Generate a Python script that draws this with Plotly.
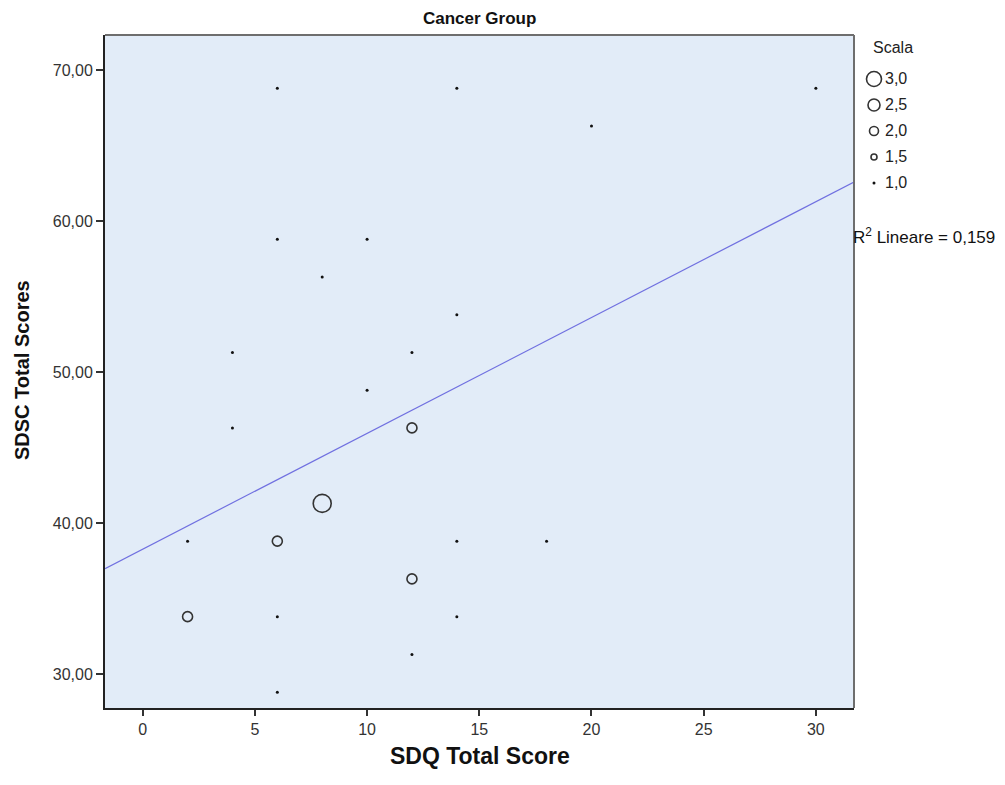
import numpy as np
import plotly.graph_objects as go

# ---------------- data ----------------
sdq = [6, 14, 30, 20, 6, 10, 8, 14, 4, 12, 10, 12, 4, 8, 2, 6, 14, 18, 12, 2, 6, 14, 12, 6]
sdsc = [68.8, 68.8, 68.8, 66.3, 58.8, 58.8, 56.3, 53.8, 51.3, 51.3, 48.8, 46.3, 46.3,
        41.3, 38.8, 38.8, 38.8, 38.8, 36.3, 33.8, 33.8, 33.8, 31.3, 28.8]
scale = [1, 1, 1, 1, 1, 1, 1, 1, 1, 1, 1, 2, 1, 3, 1, 2, 1, 1, 2, 2, 1, 1, 1, 1]

# linear fit as shown in the reference (R² Lineare = 0,159)
fit_slope = 0.767
fit_intercept = 38.27

legend_values = [3.0, 2.5, 2.0, 1.5, 1.0]
legend_labels = ["3,0", "2,5", "2,0", "1,5", "1,0"]
x_ticks = [0, 5, 10, 15, 20, 25, 30]
y_ticks = [30, 40, 50, 60, 70]
r2_label = "R<sup>2</sup> Lineare = 0,159"

# ---------------- styling ----------------
W, H = 1005, 785
PL, PR, PT, PB = 105, 854, 35, 708  # plot area in pixels
XR = [-1.68, 31.7]
YR = [27.75, 72.32]
BG = "#E2ECF8"
FONT = "Arial, Liberation Sans, sans-serif"


def plot_size(c):
    return {1: 3, 1.5: 6, 2: 10, 2.5: 14, 3: 18}[c]


def legend_size(c):
    return {1.0: 3, 1.5: 6, 2.0: 9, 2.5: 12, 3.0: 15}[c]


def marker_style(v, size):
    if v == 1:
        return dict(symbol="circle", size=size, color="#111111", line=dict(width=0))
    return dict(symbol="circle-open", size=size, color="#333333",
                line=dict(width=1.6, color="#333333"))


fig = go.Figure()

# regression line
lx = np.array(XR)
fig.add_trace(go.Scatter(x=lx, y=fit_intercept + fit_slope * lx, mode="lines",
                         line=dict(color="#7070E0", width=1.2), hoverinfo="skip",
                         showlegend=False))

# points, grouped by scale value
for c in sorted(set(scale)):
    px_ = [x for x, k in zip(sdq, scale) if k == c]
    py_ = [y for y, k in zip(sdsc, scale) if k == c]
    fig.add_trace(go.Scatter(x=px_, y=py_, mode="markers",
                             marker=marker_style(c, plot_size(c)),
                             showlegend=False, cliponaxis=False))

# custom legend on a pixel overlay axis
leg_x = 874
leg_y0, leg_dy = 79, 26
for i, (v, lab) in enumerate(zip(legend_values, legend_labels)):
    yy = leg_y0 + i * leg_dy
    fig.add_trace(go.Scatter(x=[leg_x], y=[yy], mode="markers",
                             marker=marker_style(v, legend_size(v)),
                             xaxis="x2", yaxis="y2", showlegend=False, hoverinfo="skip"))
    fig.add_annotation(x=883 / W, y=1 - yy / H, xref="paper", yref="paper", text=lab,
                       showarrow=False, xanchor="left", yanchor="middle",
                       font=dict(family=FONT, size=16, color="#222222"))

fig.add_annotation(x=871 / W, y=1 - 48 / H, xref="paper", yref="paper", text="Scala",
                   showarrow=False, xanchor="left", yanchor="middle",
                   font=dict(family=FONT, size=16, color="#222222"))
fig.add_annotation(x=851 / W, y=1 - 236 / H, xref="paper", yref="paper", text=r2_label,
                   showarrow=False, xanchor="left", yanchor="middle",
                   font=dict(family=FONT, size=17, color="#111111"))

# titles
fig.add_annotation(x=(PL + PR) / 2 / W, y=1 - 19 / H, xref="paper", yref="paper",
                   text="<b>Cancer Group</b>", showarrow=False, xanchor="center",
                   yanchor="middle", font=dict(family=FONT, size=17, color="#111111"))
fig.add_annotation(x=(PL + PR) / 2 / W, y=1 - 756 / H, xref="paper", yref="paper",
                   text="<b>SDQ Total Score</b>", showarrow=False, xanchor="center",
                   yanchor="middle", font=dict(family=FONT, size=23, color="#111111"))
fig.add_annotation(x=22 / W, y=1 - 370 / H, xref="paper", yref="paper",
                   text="<b>SDSC Total Scores</b>", showarrow=False, textangle=-90,
                   xanchor="center", yanchor="middle",
                   font=dict(family=FONT, size=20, color="#111111"))

# plot background and frame
fig.add_shape(type="rect", xref="x domain", yref="y domain", x0=0, x1=1, y0=0, y1=1,
              fillcolor=BG, line=dict(width=0), layer="below")
fig.add_shape(type="line", xref="x domain", yref="y domain", x0=0, x1=1, y0=1, y1=1,
              line=dict(color="#6E6E6E", width=2), layer="above")
fig.add_shape(type="line", xref="x domain", yref="y domain", x0=1, x1=1, y0=0, y1=1,
              line=dict(color="#6E6E6E", width=2), layer="above")

fig.update_layout(
    width=W, height=H,
    margin=dict(l=0, r=0, t=0, b=0),
    paper_bgcolor="white", plot_bgcolor="rgba(0,0,0,0)",
    separators=", ",
    showlegend=False,
    xaxis=dict(domain=[PL / W, PR / W], range=XR, tickvals=x_ticks,
               showgrid=False, zeroline=False, showline=True, linecolor="#222222",
               linewidth=2, ticks="outside", ticklen=6, tickwidth=1.5, tickcolor="#333333",
               ticklabelstandoff=0,
               tickfont=dict(family=FONT, size=16, color="#333333"), anchor="y"),
    yaxis=dict(domain=[1 - PB / H, 1 - PT / H], range=YR, tickvals=y_ticks,
               tickformat=".2f", showgrid=False, zeroline=False, showline=True,
               linecolor="#222222", linewidth=2, ticks="outside", ticklen=7,
               tickwidth=1.5, tickcolor="#333333", ticklabelstandoff=0,
               tickfont=dict(family=FONT, size=16, color="#333333"), anchor="x"),
    xaxis2=dict(domain=[0, 1], range=[0, W], visible=False, anchor="y2"),
    yaxis2=dict(domain=[0, 1], range=[H, 0], visible=False, anchor="x2"),
)

fig.write_html("out.html")
